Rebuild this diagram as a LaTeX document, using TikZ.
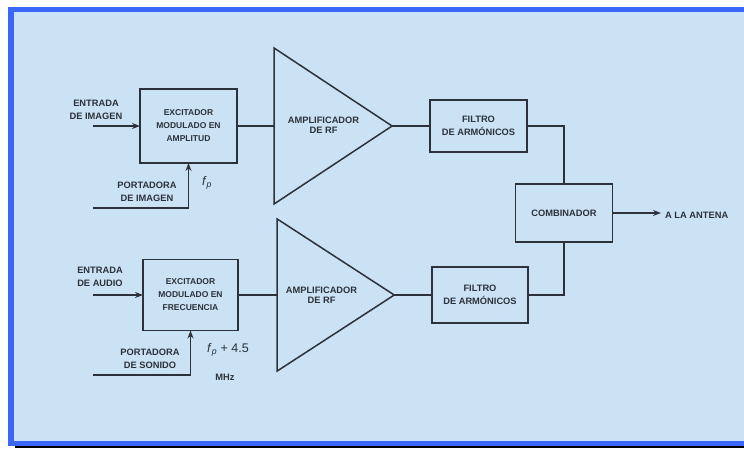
\documentclass[tikz,border=0pt]{standalone}
\usepackage{fontspec}
\setmainfont{Liberation Sans}
\usetikzlibrary{shapes.geometric,arrows.meta}
\definecolor{bgblue}{RGB}{202,226,244}
\definecolor{frameblue}{RGB}{58,102,250}
\definecolor{ink}{RGB}{45,50,58}
\begin{document}
\begin{tikzpicture}[x=1pt,y=-1pt,
  box/.style={draw=ink, line width=1.5pt, rectangle, inner sep=0pt, outer sep=0pt},
  lbl/.style={text=ink, font=\bfseries\fontsize{9.3}{13}\selectfont, align=center, inner sep=0pt},
  exctext/.style={lbl, font=\bfseries\fontsize{8.5}{13}\selectfont},
  amptext/.style={lbl, font=\bfseries\fontsize{9.3}{10}\selectfont},
  ftext/.style={text=ink, font=\fontsize{12.5}{13}\selectfont, inner sep=0pt},
  amp/.style={draw=ink, line width=1.5pt, isosceles triangle, isosceles triangle stretches, shape border rotate=0, inner sep=0pt, outer sep=0pt},
  wire/.style={draw=ink, line width=1.5pt},
  arr/.style={wire, -{Stealth[length=8pt,width=6pt]}}]
\useasboundingbox (0,0) rectangle (744,448);
% frame and background
\fill[white] (0,0) rectangle (744,448);
\fill[frameblue] (8,7) rectangle (744,446);
\fill[bgblue] (14,12) rectangle (744,441);
\draw[black, line width=1.5pt] (15,447) -- (744,447);
% upper chain
\node[box, exctext, minimum width=97pt, minimum height=74pt] (exc1) at (188.5,126) {EXCITADOR\\MODULADO EN\\AMPLITUD};
\node[amp, minimum width=156pt, minimum height=118pt] (amp1) at (316,126) {};
\node[amptext] (amp1t) at (323.5,125) {AMPLIFICADOR\\DE RF};
\node[box, lbl, minimum width=97pt, minimum height=52pt] (flt1) at (478.5,126) {FILTRO\\DE ARMÓNICOS};
% lower chain
\node[box, exctext, minimum width=95pt, minimum height=71pt] (exc2) at (190.5,295) {EXCITADOR\\MODULADO EN\\FRECUENCIA};
\node[amp, minimum width=152pt, minimum height=117pt] (amp2) at (318.5,295) {};
\node[amptext] (amp2t) at (321.5,295) {AMPLIFICADOR\\DE RF};
\node[box, lbl, minimum width=96pt, minimum height=56pt] (flt2) at (480,295) {FILTRO\\DE ARMÓNICOS};
% combiner
\node[box, lbl, minimum width=97pt, minimum height=58pt] (comb) at (564,213) {COMBINADOR};
\coordinate (ant) at (661,213);
\node[lbl, anchor=west] (antt) at (665,215) {A LA ANTENA};
% inputs
\coordinate (in1) at (93,126);
\node[lbl] (in1t) at (96,110) {ENTRADA\\DE IMAGEN};
\coordinate (c1) at (93,208);
\node[lbl] (c1t) at (147,192) {PORTADORA\\DE IMAGEN};
\node[ftext] (fp1) at (207,183) {\textit{f}\textsubscript{\textit{p}}};
\coordinate (in2) at (93,295);
\node[lbl] (in2t) at (100,277) {ENTRADA\\DE AUDIO};
\coordinate (c2) at (93,375);
\node[lbl] (c2t) at (150,359) {PORTADORA\\DE SONIDO};
\node[ftext] (fp2) at (228,350) {\textit{f}\textsubscript{\textit{p}} + 4.5};
\node[lbl] (mhz) at (225,377) {MHz};
% connectors
\draw[arr] (in1) -- (exc1.west);
\draw[arr] (c1) -| (exc1.south);
\draw[wire] (exc1.east) -- (amp1.west);
\draw[wire] (amp1.apex) -- (flt1.west);
\draw[wire] (flt1.east) -| (comb.north);
\draw[arr] (in2) -- (exc2.west);
\draw[arr] (c2) -| (exc2.south);
\draw[wire] (exc2.east) -- (amp2.west);
\draw[wire] (amp2.apex) -- (flt2.west);
\draw[wire] (flt2.east) -| (comb.south);
\draw[arr] (comb.east) -- (ant);
\end{tikzpicture}
\end{document}
